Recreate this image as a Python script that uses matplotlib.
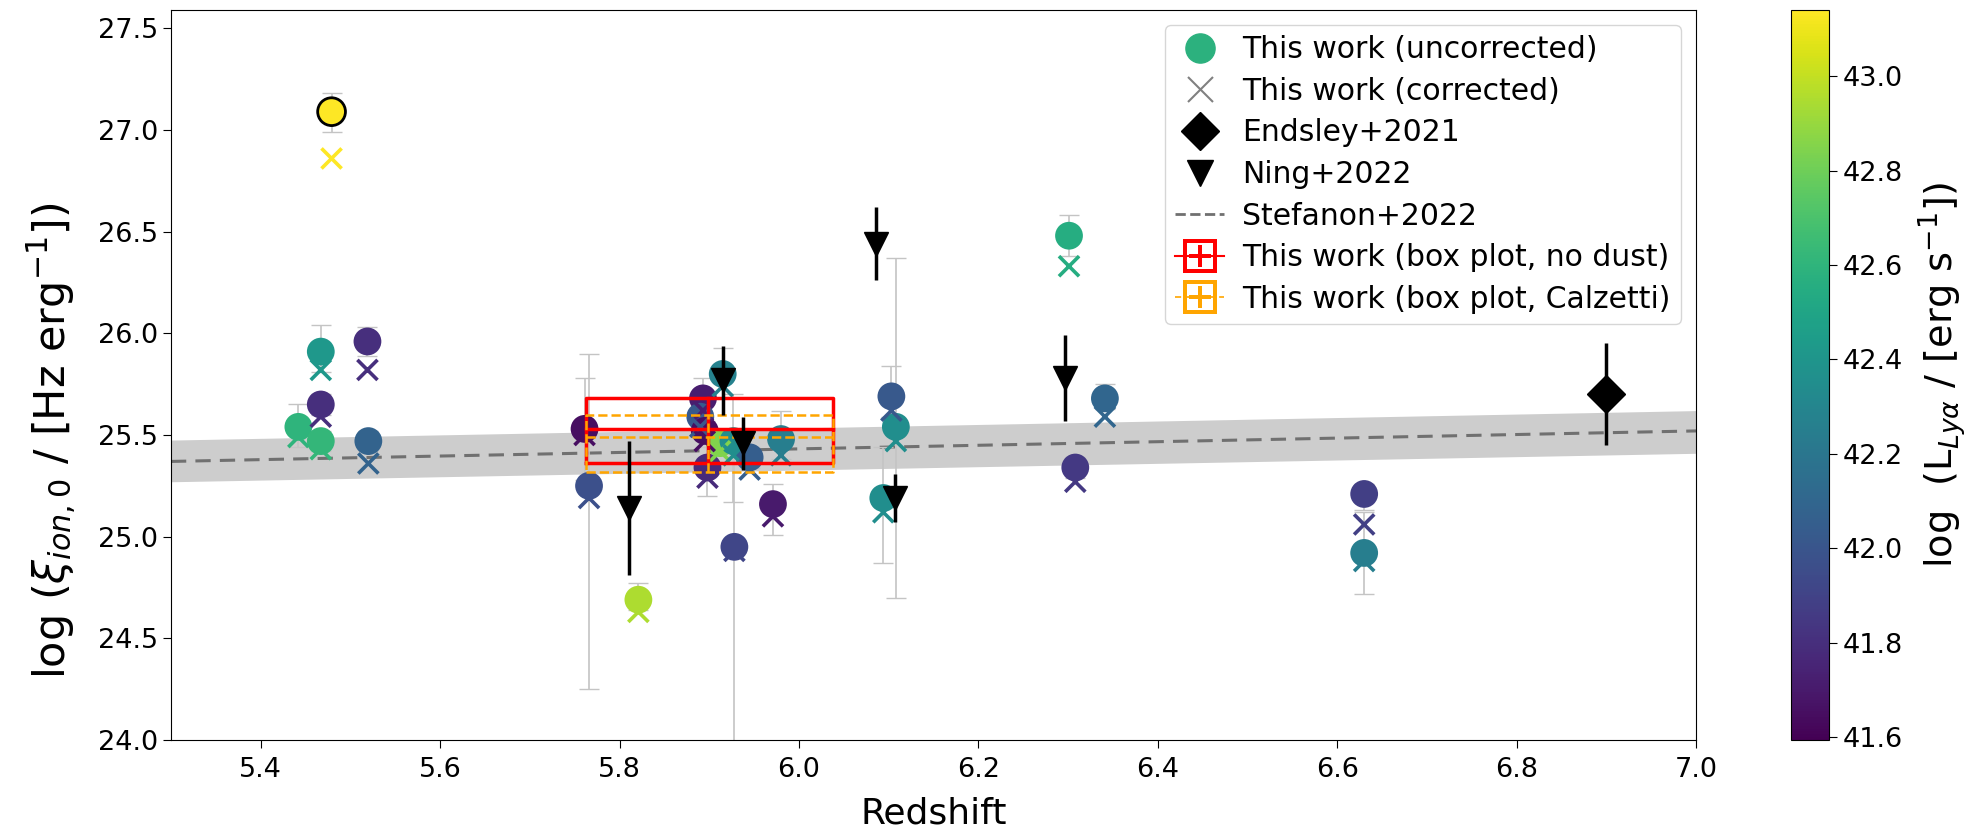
import numpy as np
import matplotlib
matplotlib.use("Agg")
import matplotlib.pyplot as plt
from matplotlib.lines import Line2D

# this work: redshift, uncorrected / corrected xi_ion, Lya luminosity, errors
z = [5.479, 5.467, 5.519, 5.467, 5.442, 5.467, 5.520, 5.761, 5.766, 5.821,
     5.915, 5.893, 5.890, 5.895, 5.898, 5.912, 5.927, 5.945, 5.928, 5.980,
     5.971, 6.103, 6.108, 6.094, 6.301, 6.341, 6.308, 6.630, 6.630]
xi_unc = [27.09, 25.91, 25.96, 25.65, 25.54, 25.47, 25.47, 25.53, 25.25, 24.69,
          25.80, 25.68, 25.59, 25.52, 25.34, 25.46, 25.47, 25.39, 24.95, 25.48,
          25.16, 25.69, 25.54, 25.19, 26.48, 25.68, 25.34, 25.21, 24.92]
xi_cor = [26.86, 25.82, 25.82, 25.59, 25.49, 25.43, 25.36, 25.50, 25.19, 24.63,
          25.74, 25.62, 25.54, 25.47, 25.29, 25.42, 25.40, 25.33, 24.93, 25.40,
          25.10, 25.62, 25.47, 25.12, 26.33, 25.59, 25.27, 25.06, 24.88]
lum_lya = [43.14, 42.42, 41.80, 41.80, 42.60, 42.62, 42.08, 41.65, 41.97, 42.95,
           42.28, 41.72, 42.02, 41.65, 41.78, 42.85, 42.35, 42.05, 41.92, 42.25,
           41.70, 42.02, 42.35, 42.35, 42.55, 42.10, 41.85, 41.88, 42.25]
err_lo = [0.10, 0.10, 0.07, 0.05, 0.10, 0.05, 0.05, 0.25, 1.00, 0.05,
          0.12, 0.10, 0.10, 0.05, 0.14, 0.05, 0.30, 0.05, 1.20, 0.10,
          0.15, 0.10, 0.84, 0.32, 0.10, 0.05, 0.05, 0.08, 0.20]
err_hi = [0.09, 0.13, 0.07, 0.05, 0.11, 0.05, 0.05, 0.25, 0.65, 0.08,
          0.13, 0.10, 0.10, 0.05, 0.10, 0.05, 0.23, 0.05, 0.50, 0.14,
          0.10, 0.15, 0.83, 0.25, 0.10, 0.07, 0.05, 0.05, 0.20]

# literature
endsley_z = [6.90]
endsley_xi = [25.70]
endsley_err = [0.25]
ning_z = [5.810, 5.915, 5.938, 6.086, 6.107, 6.297]
ning_xi = [25.14, 25.77, 25.46, 26.44, 25.19, 25.78]
ning_err = [0.33, 0.17, 0.13, 0.18, 0.12, 0.21]
stef_z = [5.3, 7.0]
stef_xi = [25.37, 25.52]
stef_lo = [25.27, 25.41]
stef_hi = [25.475, 25.62]

# box plots (quartiles)
box_z = [5.763, 5.899, 6.038]
box_xi_nodust = [25.36, 25.53, 25.68]
box_xi_calz = [25.316, 25.49, 25.60]

vmin, vmax = 41.594, 43.14
cmap = plt.get_cmap("viridis")
norm = matplotlib.colors.Normalize(vmin=vmin, vmax=vmax)

fig = plt.figure(figsize=(19.72, 8.34), dpi=100)
ax = fig.add_axes([0.0867, 0.1127, 0.7734, 0.8753])
cax = fig.add_axes([0.9082, 0.1127, 0.0193, 0.8753])

ax.fill_between(stef_z, stef_lo, stef_hi, color="#cdcdcd", lw=0, zorder=0)
ax.plot(stef_z, stef_xi, ls="--", color="#707070", lw=2.2, dashes=(5, 3), zorder=1)

ax.errorbar(z, xi_unc, yerr=[err_lo, err_hi], fmt="none", ecolor="#c4c4c4",
            elinewidth=1.2, capsize=7, zorder=2)

edge = ["black" if i == 0 else "none" for i in range(len(z))]
ax.scatter(z, xi_unc, c=lum_lya, cmap=cmap, norm=norm, s=400,
           edgecolors=edge, linewidths=2, zorder=3)
ax.scatter(z, xi_cor, c=lum_lya, cmap=cmap, norm=norm, marker="x", s=210,
           linewidths=2.6, zorder=3)

for q, col, ls, lw in [(box_xi_nodust, "red", "-", 2.5), (box_xi_calz, "orange", "--", 1.8)]:
    ax.plot([box_z[0], box_z[2], box_z[2], box_z[0], box_z[0]],
            [q[0], q[0], q[2], q[2], q[0]], color=col, ls=ls, lw=lw, zorder=4)
    ax.plot([box_z[1], box_z[1]], [q[0], q[2]], color=col, ls=ls, lw=lw, zorder=4)
    ax.plot([box_z[0], box_z[2]], [q[1], q[1]], color=col, ls=ls, lw=lw, zorder=4)

ax.errorbar(ning_z, ning_xi, yerr=ning_err, fmt="v", color="black", ms=17,
            elinewidth=2.5, zorder=5)
ax.errorbar(endsley_z, endsley_xi, yerr=endsley_err, fmt="D", color="black",
            ms=19, elinewidth=2.5, zorder=5)

ax.set_xlim(5.3, 7.0)
ax.set_ylim(24.0, 27.59)
ax.set_xticks(np.arange(5.4, 7.01, 0.2))
ax.set_yticks(np.arange(24.0, 27.51, 0.5))
ax.xaxis.set_major_formatter(matplotlib.ticker.FormatStrFormatter("%.1f"))
ax.yaxis.set_major_formatter(matplotlib.ticker.FormatStrFormatter("%.1f"))
ax.tick_params(labelsize=19.5, length=6)
ax.tick_params(axis="x", pad=6)
ax.set_xlabel("Redshift", fontsize=26, labelpad=10)
ax.set_ylabel(r"log ($\xi_{ion,0}$ / [Hz erg$^{-1}$])", fontsize=31)
ax.yaxis.set_label_coords(-0.060, 0.41)

handles = [
    Line2D([], [], ls="none", marker="o", color=cmap(norm(42.58)), ms=21),
    Line2D([], [], ls="none", marker="x", color="grey", ms=18, mew=1.5),
    Line2D([], [], ls="none", marker="D", color="black", ms=19),
    Line2D([], [], ls="none", marker="v", color="black", ms=19),
    Line2D([], [], ls="--", color="#707070", lw=2),
    Line2D([], [], ls="-", color="red", lw=1.5, marker=r"$\boxplus$", ms=24, mew=0),
    Line2D([], [], ls="--", color="orange", lw=1.2, marker=r"$\boxplus$", ms=24, mew=0),
]
labels = ["This work (uncorrected)", "This work (corrected)", "Endsley+2021",
          "Ning+2022", "Stefanon+2022", "This work (box plot, no dust)",
          "This work (box plot, Calzetti)"]
ax.legend(handles, labels, loc="upper right", fontsize=21.5, labelspacing=0.42,
          handlelength=1.65, handletextpad=0.6, borderpad=0.35)

sm = matplotlib.cm.ScalarMappable(norm=norm, cmap=cmap)
cb = fig.colorbar(sm, cax=cax, ticks=np.arange(41.6, 43.01, 0.2))
cb.ax.yaxis.set_major_formatter(matplotlib.ticker.FormatStrFormatter("%.1f"))
cb.ax.tick_params(labelsize=19.5, length=6)
cb.set_label(r"log  (L$_{Ly\alpha}$ / [erg s$^{-1}$])", fontsize=27.5, labelpad=10)

fig.savefig("out.png", dpi=100)
